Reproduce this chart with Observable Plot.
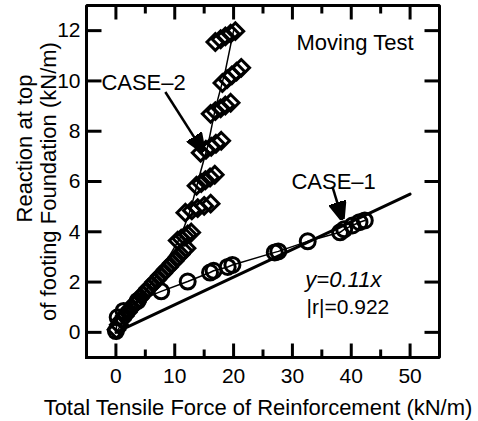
<!DOCTYPE html>
<html>
<head>
<meta charset="utf-8">
<script src="https://cdn.jsdelivr.net/npm/d3@7"></script>
<script src="https://cdn.jsdelivr.net/npm/@observablehq/plot@0.6"></script>
<style>
  body { margin: 0; background: #fff; }
  #chart svg { display: block; }
</style>
</head>
<body>
<div id="chart"></div>
<script>
// Axis ticks
const xMajor = [0, 10, 20, 30, 40, 50];
const xMinor = [5, 15, 25, 35, 45];
const yMajor = [0, 2, 4, 6, 8, 10, 12];
const xDomain = [-5, 55];
const yDomain = [-1, 13];

// CASE-2 measurements (diamonds): dense low-load chain, then clustered readings per load step
const case2X = [
  0.1, 0.5, 1.0, 1.5, 2.0, 2.5, 3.0, 3.5, 4.0, 4.5, 5.0, 5.5, 6.0, 6.5, 7.0, 7.5, 8.0, 8.5, 9.0, 9.5, 10.0, 10.5, 11.0, 11.5, 12.0,
  10.5, 11.1, 11.7, 12.2, 12.8,
  11.8, 12.9, 13.9, 15.0, 16.1,
  13.7, 14.5, 15.2, 16.0, 16.8,
  14.4, 15.3, 16.2, 17.0, 17.9,
  16.1, 16.9, 17.8, 18.6, 19.5,
  18.1, 18.9, 19.7, 20.5, 21.3,
  16.9, 17.8, 18.6, 19.5, 20.3
];
const case2Y = [
  0.1, 0.3, 0.5, 0.65, 0.8, 0.95, 1.1, 1.2, 1.35, 1.5, 1.6, 1.75, 1.85, 2.0, 2.1, 2.25, 2.35, 2.5, 2.6, 2.75, 2.85, 3.0, 3.1, 3.25, 3.35,
  3.65, 3.73, 3.81, 3.89, 3.97,
  4.76, 4.85, 4.94, 5.03, 5.12,
  5.83, 5.94, 6.05, 6.16, 6.27,
  7.14, 7.26, 7.38, 7.5, 7.62,
  8.69, 8.8, 8.91, 9.02, 9.13,
  9.92, 10.07, 10.22, 10.37, 10.52,
  11.55, 11.66, 11.77, 11.88, 11.98
];
// CASE-2 trend curve
const case2LineX = [0, 4, 8, 11, 12.7, 14.4, 15.6, 16.9, 18.6, 20.0];
const case2LineY = [0, 1.3, 2.6, 3.8, 4.9, 6.4, 7.4, 8.9, 10.4, 12.0];

// CASE-1 measurements (circles)
const case1X = [0, 0.3, 1.3, 3.7, 7.7, 12.2, 16.0, 16.6, 19.0, 19.8, 27.0, 27.6, 32.6, 38.1, 38.8, 40.2, 41.4, 42.3];
const case1Y = [0.05, 0.6, 0.85, 1.25, 1.63, 2.02, 2.38, 2.45, 2.6, 2.68, 3.18, 3.22, 3.62, 3.98, 4.1, 4.25, 4.38, 4.45];

// Linear fit for CASE-1: y = 0.11x, |r| = 0.922
const fitSlope = 0.11;
const fitR = 0.922;
const fitX = [0, 50];

// Annotation texts
const labels2 = ["CASE–2"];
const labels1 = ["CASE–1"];
const panelTitle = ["Moving Test"];
const xTitle = ["Total Tensile Force of Reinforcement (kN/m)"];
const yTitle = ["Reaction at top", "of footing Foundation (kN/m)"];

const case2 = case2X.map((x, i) => ({x, y: case2Y[i]}));
const case2Line = case2LineX.map((x, i) => ({x, y: case2LineY[i]}));
const case1 = case1X.map((x, i) => ({x, y: case1Y[i]}));
const fit = fitX.map(x => ({x, y: fitSlope * x}));

// Plot geometry
const W = 478, H = 421, mL = 86, mR = 39, mT = 5, mB = 64;
const pxPerX = (W - mL - mR) / (xDomain[1] - xDomain[0]);
const pxPerY = (H - mT - mB) / (yDomain[1] - yDomain[0]);

// Frame outline (closed path along the domain edges)
const [x0, x1] = xDomain, [y0, y1] = yDomain;
const frameOutline = [{x: x0, y: y0}, {x: x1, y: y0}, {x: x1, y: y1}, {x: x0, y: y1}, {x: x0, y: y0}];

// Inward tick segments, lengths given in pixels
const majorX = 14 / pxPerY, minorX = 8 / pxPerY, majorY = 15 / pxPerX;
const ticks = [
  ...xMajor.flatMap(t => [{x1: t, x2: t, y1: y0, y2: y0 + majorX}, {x1: t, x2: t, y1: y1, y2: y1 - majorX}]),
  ...xMinor.flatMap(t => [{x1: t, x2: t, y1: y0, y2: y0 + minorX}, {x1: t, x2: t, y1: y1, y2: y1 - minorX}]),
  ...yMajor.flatMap(t => [{x1: x0, x2: x0 + majorY, y1: t, y2: t}, {x1: x1, x2: x1 - majorY, y1: t, y2: t}])
];

// Solid triangular arrowhead
const solidHead = (color, context) => {
  const ns = "http://www.w3.org/2000/svg";
  const m = context.document.createElementNS(ns, "marker");
  m.setAttribute("viewBox", "-10 -5 10 10");
  m.setAttribute("markerUnits", "userSpaceOnUse");
  m.setAttribute("markerWidth", 18);
  m.setAttribute("markerHeight", 18);
  m.setAttribute("orient", "auto");
  const p = context.document.createElementNS(ns, "path");
  p.setAttribute("d", "M-10,-4L0,0L-10,4Z");
  p.setAttribute("fill", color);
  m.appendChild(p);
  return m;
};

const font = "'Liberation Sans', Arial, Helvetica, sans-serif";

const chart = Plot.plot({
  width: W,
  height: H,
  marginLeft: mL,
  marginRight: mR,
  marginTop: mT,
  marginBottom: mB,
  style: {fontFamily: font, color: "#000", background: "#fff"},
  x: {domain: xDomain},
  y: {domain: yDomain},
  marks: [
    // fit line and series
    Plot.line(fit, {x: "x", y: "y", stroke: "#000", strokeWidth: 3}),
    Plot.line(case1, {x: "x", y: "y", stroke: "#000", strokeWidth: 1.5}),
    Plot.line(case2Line, {x: "x", y: "y", stroke: "#000", strokeWidth: 1.5}),
    Plot.dot(case1, {x: "x", y: "y", r: 7.5, stroke: "#000", strokeWidth: 3, fill: "none"}),
    Plot.dot(case2, {x: "x", y: "y", symbol: "diamond2", r: 7.5, stroke: "#000", strokeWidth: 3, fill: "none"}),
    // tick labels
    Plot.axisX(xMajor, {anchor: "bottom", tickSize: 0, tickPadding: 11, fontSize: 21, label: null}),
    Plot.axisY(yMajor, {anchor: "left", tickSize: 0, tickPadding: 6, fontSize: 21, label: null}),
    // axis titles
    Plot.text(xTitle, {frameAnchor: "bottom", textAnchor: "middle", lineAnchor: "middle", dy: 50, dx: -5, fontSize: 22}),
    Plot.text(yTitle.slice(0, 1), {frameAnchor: "left", textAnchor: "middle", lineAnchor: "middle", rotate: -90, dx: -62, dy: -33, fontSize: 22}),
    Plot.text(yTitle.slice(1), {frameAnchor: "left", textAnchor: "middle", lineAnchor: "middle", rotate: -90, dx: -38, dy: 0, fontSize: 22}),
    // annotations
    Plot.link([{x1: 8.4, y1: 9.56, x2: 14.9, y2: 7.18}], {x1: "x1", y1: "y1", x2: "x2", y2: "y2", stroke: "#000", strokeWidth: 2.5, markerEnd: solidHead}),
    Plot.link([{x1: 36.8, y1: 5.8, x2: 38.5, y2: 4.48}], {x1: "x1", y1: "y1", x2: "x2", y2: "y2", stroke: "#000", strokeWidth: 2.5, markerEnd: solidHead}),
    Plot.text(labels2, {x: 4.7, y: 9.92, fontSize: 22}),
    Plot.text(labels1, {x: 37.0, y: 6.0, fontSize: 22}),
    Plot.text(panelTitle, {frameAnchor: "top-right", dx: -26, dy: 37, textAnchor: "end", lineAnchor: "middle", fontSize: 22}),
    Plot.text([`y=${fitSlope}x`], {x: 32.2, y: 2.1, textAnchor: "start", fontSize: 22, fontStyle: "italic"}),
    Plot.text([`|r|=${fitR}`], {x: 32.4, y: 0.99, textAnchor: "start", fontSize: 21}),
    // inward ticks and frame
    Plot.link(ticks, {x1: "x1", y1: "y1", x2: "x2", y2: "y2", stroke: "#000", strokeWidth: 3}),
    Plot.line(frameOutline, {x: "x", y: "y", stroke: "#000", strokeWidth: 3, strokeLinejoin: "miter", strokeLinecap: "square"})
  ]
});

document.getElementById("chart").appendChild(chart);
</script>
</body>
</html>
